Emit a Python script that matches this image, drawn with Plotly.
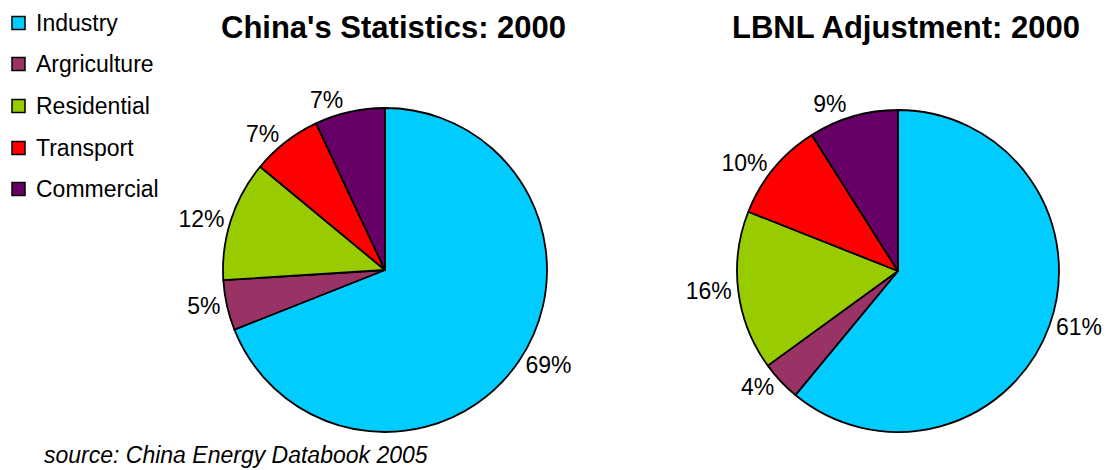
import plotly.graph_objects as go

# the page body keeps its default 8px margin, so the figure is drawn that much smaller
PAGE_W, PAGE_H = 1111, 470
OFFSET = 8
W, H = PAGE_W - OFFSET, PAGE_H - OFFSET

sectors = ["Industry", "Argriculture", "Residential", "Transport", "Commercial"]
colors = ["#00CCFF", "#993366", "#99CC00", "#FF0000", "#660066"]
china_stats = [69, 5, 12, 7, 7]
lbnl_adjusted = [61, 4, 16, 10, 9]
titles = ["China's Statistics: 2000", "LBNL Adjustment: 2000"]
source_note = "source: China Energy Databook 2005"

FONT = "Liberation Sans, Arial, sans-serif"


def px_x(x):
    """Page pixel -> paper fraction."""
    return (x - OFFSET) / W


def px_y(y):
    return 1 - (y - OFFSET) / H


def pie_domain(cx, cy, r):
    return dict(x=[px_x(cx - r), px_x(cx + r)], y=[px_y(cy + r), px_y(cy - r)])


fig = go.Figure()

for values, (cx, cy, r) in zip([china_stats, lbnl_adjusted],
                               [(385, 270, 162), (898, 271, 161)]):
    fig.add_trace(go.Pie(
        labels=sectors,
        values=values,
        sort=False,
        direction="clockwise",
        rotation=0,
        domain=pie_domain(cx, cy, r),
        marker=dict(colors=colors, line=dict(color="black", width=1.8)),
        textposition="outside",
        texttemplate="%{value}%",
        textfont=dict(family=FONT, size=23, color="black"),
        showlegend=False,
        hoverinfo="label+percent",
    ))

annotations = []
for text, cx in zip(titles, [393, 906]):
    annotations.append(dict(
        text=f"<b>{text}</b>", x=px_x(cx), y=px_y(28), xref="paper", yref="paper",
        xanchor="center", yanchor="middle", showarrow=False,
        font=dict(family=FONT, size=31, color="black"),
    ))

# hand-made legend: coloured boxes and labels
shapes = []
row_y = [23, 64, 106, 148, 189]
for name, color, y in zip(sectors, colors, row_y):
    shapes.append(dict(
        type="rect", xref="paper", yref="paper",
        x0=px_x(12), x1=px_x(25), y0=px_y(y + 6.5), y1=px_y(y - 6.5),
        fillcolor=color, line=dict(color="black", width=1.5),
    ))
    annotations.append(dict(
        text=name, x=px_x(34), y=px_y(y), xref="paper", yref="paper",
        xanchor="left", yanchor="middle", showarrow=False,
        font=dict(family=FONT, size=23, color="black"),
    ))

annotations.append(dict(
    text=f"<i>{source_note}</i>", x=px_x(42), y=px_y(455), xref="paper", yref="paper",
    xanchor="left", yanchor="middle", showarrow=False,
    font=dict(family=FONT, size=23, color="black"),
))

fig.update_layout(
    width=W,
    height=H,
    margin=dict(l=0, r=0, t=0, b=0),
    paper_bgcolor="white",
    plot_bgcolor="white",
    annotations=annotations,
    shapes=shapes,
)

fig.write_html("out.html")
